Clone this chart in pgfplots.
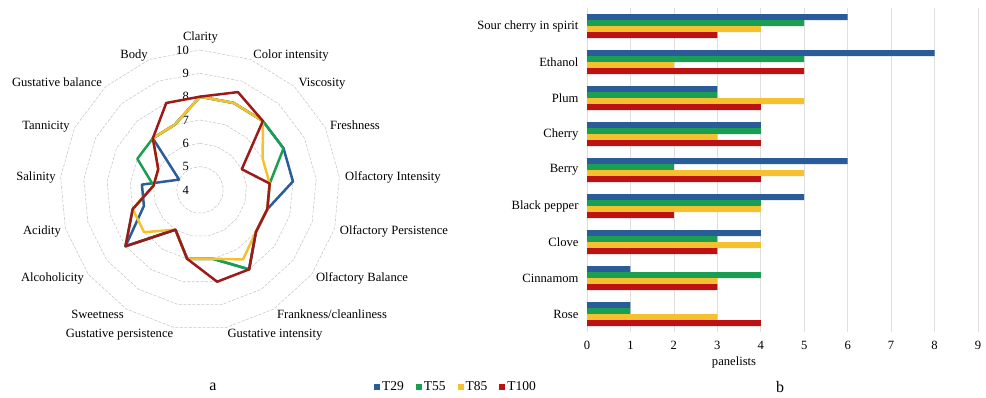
\documentclass[border=0pt]{standalone}
\usepackage{pgfplots}
\pgfplotsset{compat=1.18}
\usepackage{pgfplotstable}
\usepackage{fontspec}
\setmainfont{Liberation Serif}
\definecolor{cA}{HTML}{2A5C9A}
\definecolor{cB}{HTML}{1A9E52}
\definecolor{cC}{HTML}{F5C12F}
\definecolor{cD}{HTML}{BE1212}
\definecolor{cDr}{HTML}{9E1A1A}
\newcommand{\lab}{\fontsize{12.6}{15}\selectfont}

% radar: spoke k (0 = Clarity, clockwise), scores
\pgfplotstableread{
k T29 T55 T85 T100
0 8 8 8 8
1 8 8 8 8.5
2 8 8 8 8
3 8 8 7 6
4 8 7 7 7
5 7 7 7 7
6 7 7 7 7
7 8 8 7.5 8
8 7 7 7 8
9 7 7 7 7
10 6 6 6 6
11 8 8 7 8
12 6.5 7 7 7
13 6.5 6 6 6
14 5 7 6 6
15 7 7 7 7
16 7 7 7 8
17 8 8 8 8
}\radar

% bars: y = 0 Rose ... 8 Sour cherry in spirit
\pgfplotstableread{
y T29 T55 T85 T100
0 1 1 3 4
1 1 4 3 3
2 4 3 4 3
3 5 4 4 2
4 6 2 5 4
5 4 4 3 4
6 3 3 5 4
7 8 5 2 5
8 6 5 4 3
}\bars

\begin{document}
\begin{tikzpicture}[lbl/.style={font=\lab, anchor=base, yshift=-4.2pt, inner sep=0pt}]
\useasboundingbox (0,0) rectangle (986pt,397pt);
% radar grid
\begin{scope}[shift={(200pt,207pt)}]
\foreach \r in {1,...,6}{
  \draw[gray!45, line width=0.55pt, dash pattern=on 3pt off 1.5pt] (90:{\r*23.333pt}) \foreach \k in {1,...,16}{ -- ({90-\k*360/17}:{\r*23.333pt}) } -- cycle;
}
\end{scope}
\foreach \v in {4,...,10}{
  \node[lbl, anchor=base east] at (189pt,{(207+(\v-4)*23.333)*1pt}) {\v};
}
\node[lbl] at (200.5pt,360.3pt) {Clarity};
\node[lbl] at (134pt,342.7pt) {Body};
\node[lbl] at (291pt,343pt) {Color intensity};
\node[lbl] at (57pt,315pt) {Gustative balance};
\node[lbl] at (322pt,315pt) {Viscosity};
\node[lbl] at (46pt,272pt) {Tannicity};
\node[lbl] at (355pt,272pt) {Freshness};
\node[lbl] at (36pt,221pt) {Salinity};
\node[lbl] at (393pt,221pt) {Olfactory Intensity};
\node[lbl] at (42pt,167pt) {Acidity};
\node[lbl] at (394pt,167pt) {Olfactory Persistence};
\node[lbl] at (52.5pt,119.3pt) {Alcoholicity};
\node[lbl] at (362pt,119.3pt) {Olfactory Balance};
\node[lbl] at (97.5pt,83pt) {Sweetness};
\node[lbl] at (332pt,83pt) {Frankness/cleanliness};
\node[lbl] at (119.5pt,63.7pt) {Gustative persistence};
\node[lbl] at (275pt,63.7pt) {Gustative intensity};

\begin{axis}[at={(200pt,207pt)}, anchor=center, scale only axis,
  width=303.33pt, height=303.33pt,
  xmin=-6.5, xmax=6.5, ymin=-6.5, ymax=6.5, hide axis, clip=false]
\addplot[cA, line width=2.5pt, line join=round, mark=none] table[x expr={(\thisrow{T29}-4)*cos(90-\thisrow{k}*360/17)}, y expr={(\thisrow{T29}-4)*sin(90-\thisrow{k}*360/17)}]{\radar};
\addplot[cB, line width=2.5pt, line join=round, mark=none] table[x expr={(\thisrow{T55}-4)*cos(90-\thisrow{k}*360/17)}, y expr={(\thisrow{T55}-4)*sin(90-\thisrow{k}*360/17)}]{\radar};
\addplot[cC, line width=2.5pt, line join=round, mark=none] table[x expr={(\thisrow{T85}-4)*cos(90-\thisrow{k}*360/17)}, y expr={(\thisrow{T85}-4)*sin(90-\thisrow{k}*360/17)}]{\radar};
\addplot[cDr, line width=2.5pt, line join=round, mark=none] table[x expr={(\thisrow{T100}-4)*cos(90-\thisrow{k}*360/17)}, y expr={(\thisrow{T100}-4)*sin(90-\thisrow{k}*360/17)}]{\radar};
\end{axis}

\begin{axis}[at={(587pt,65pt)}, anchor=south west, scale only axis,
  width=391pt, height=324pt,
  xmin=0, xmax=9, ymin=-0.5, ymax=8.5,
  xbar, bar width=6pt,
  xtick={0,...,9}, ytick={0,...,8},
  yticklabels={Rose,Cinnamom,Clove,Black pepper,Berry,Cherry,Plum,Ethanol,Sour cherry in spirit},
  xmajorgrids, major grid style={gray!25, line width=0.7pt},
  axis line style={draw=none}, major tick length=0pt,
  tick label style={font=\lab}, /pgf/number format/assume math mode=true,
  xticklabel style={yshift=-6pt}, yticklabel style={xshift=-5pt},
  xlabel={panelists}, xlabel style={font=\lab, at={(axis description cs:0.376,-0.0926)}, anchor=center},
  legend style={at={(axis description cs:-0.335,-0.170)}, anchor=center, draw=none,
    legend columns=4, font=\fontsize{13.5}{16}\selectfont,
    /tikz/every even column/.append style={column sep=10pt}},
  legend image code/.code={\fill[#1] (0pt,-3pt) rectangle (6pt,3pt);}
]
\addplot[fill=cA, draw=none, bar shift=9pt] table[x=T29, y=y]{\bars};
\addplot[fill=cB, draw=none, bar shift=3pt] table[x=T55, y=y]{\bars};
\addplot[fill=cC, draw=none, bar shift=-3pt] table[x=T85, y=y]{\bars};
\addplot[fill=cD, draw=none, bar shift=-9pt] table[x=T100, y=y]{\bars};
\legend{T29,T55,T85,T100}
\end{axis}

\node[font=\fontsize{16}{19}\selectfont] at (213pt,10.3pt) {a};
\node[font=\fontsize{16}{19}\selectfont] at (780pt,10.3pt) {b};
\end{tikzpicture}
\end{document}
